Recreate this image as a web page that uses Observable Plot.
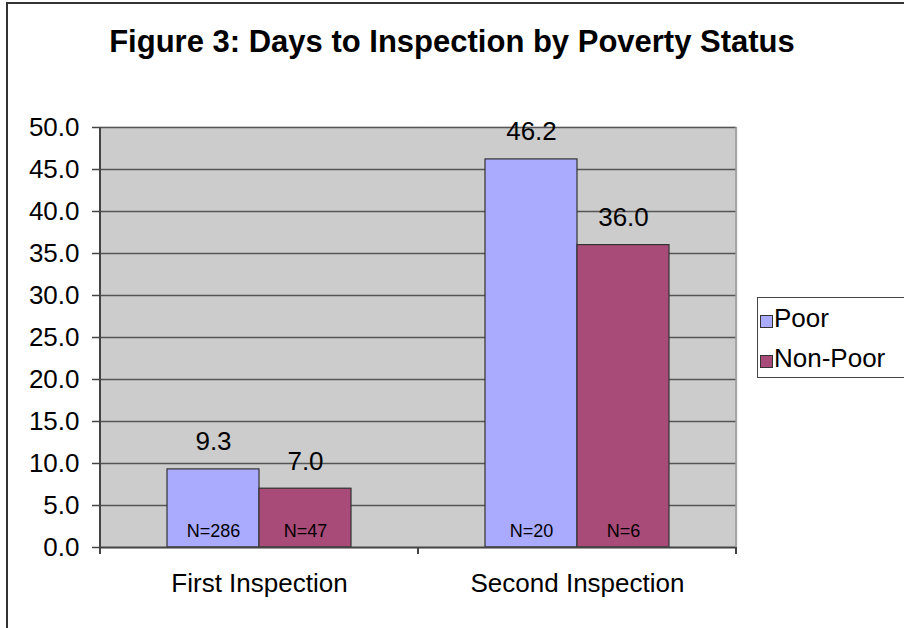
<!DOCTYPE html>
<html>
<head>
<meta charset="utf-8">
<script src="https://cdn.jsdelivr.net/npm/d3@7"></script>
<script src="https://cdn.jsdelivr.net/npm/@observablehq/plot@0.6"></script>
<style>
  html, body { margin: 0; padding: 0; background: #fff; overflow: hidden; }
  #wrap { position: relative; width: 904px; height: 628px; overflow: hidden; background: #fff; font-family: "Liberation Sans", Arial, sans-serif; }
  #frame { position: absolute; left: 6px; top: 2px; width: 1200px; height: 1200px; border: 2px solid #333; box-sizing: border-box; }
  #title { position: absolute; left: 0; top: 26px; width: 904px; text-align: center; font-weight: bold; font-size: 31px; line-height: 31px; color: #000; }
  #chart { position: absolute; left: 0; top: 0; }
  #legend { position: absolute; left: 757px; top: 297px; width: 200px; height: 81px; border: 1.5px solid #444; box-sizing: border-box; background: #fff; }
  .li { position: absolute; left: 0; font-size: 26px; line-height: 26px; color: #000; white-space: nowrap; }
  .sw { position: absolute; width: 11px; height: 11px; border: 1px solid #333; }
  .lt { position: absolute; left: 16px; }
</style>
</head>
<body>
<div id="wrap">
  <div id="frame"></div>
  <div id="chart"></div>
  <div id="title">Figure 3: Days to Inspection by Poverty Status</div>
  <div id="legend"></div>
</div>
<script>
const categories = ["First Inspection", "Second Inspection"];
const series = ["Poor", "Non-Poor"];
const poorValues = [9.3, 46.2];
const nonPoorValues = [7.0, 36.0];
const poorN = ["N=286", "N=20"];
const nonPoorN = ["N=47", "N=6"];
const yTicks = [0, 5, 10, 15, 20, 25, 30, 35, 40, 45, 50];
const seriesColors = ["#aaaaff", "#a94b78"];

const data = [];
categories.forEach((c, i) => {
  data.push({category: c, series: series[0], value: poorValues[i], n: poorN[i]});
  data.push({category: c, series: series[1], value: nonPoorValues[i], n: nonPoorN[i]});
});

const plot = Plot.plot({
  width: 904,
  height: 628,
  marginLeft: 100,
  marginRight: 168,
  marginTop: 127,
  marginBottom: 81,
  style: {fontFamily: "'Liberation Sans', Arial, sans-serif", color: "#000", background: "transparent", overflow: "visible"},
  fx: {domain: categories, paddingInner: 0, paddingOuter: 0, label: null},
  x: {domain: series, paddingInner: 0, paddingOuter: 0.728, axis: null},
  y: {domain: [0, 50], axis: null},
  color: {domain: series, range: seriesColors},
  marks: [
    Plot.frame({fill: "#cccccc", stroke: "#cccccc", strokeWidth: 1.5}),
    Plot.gridY(yTicks.filter(d => d > 0), {stroke: "#555", strokeOpacity: 1, strokeWidth: 1.5}),
    Plot.barY(data, {fx: "category", x: "series", y: "value", fill: "series", stroke: "#333", strokeWidth: 1.2}),
    Plot.ruleY([0], {stroke: "#444", strokeWidth: 2}),
    Plot.text(data, {fx: "category", x: "series", y: "value", text: d => d.value.toFixed(1), lineAnchor: "bottom", dy: -19, fontSize: 26, fill: "#000"}),
    Plot.text(data, {fx: "category", x: "series", y: 0, text: "n", lineAnchor: "bottom", dy: -11, fontSize: 18, fill: "#000"}),
    Plot.axisY({ticks: yTicks, tickFormat: d => d.toFixed(1), tickSize: 8, tickPadding: 13, fontSize: 26, anchor: "left", stroke: "#444", strokeWidth: 1.5, label: null}),
    Plot.axisFx({anchor: "bottom", tickSize: 0, tickPadding: 26, fontSize: 26, label: null})
  ]
});
document.getElementById("chart").appendChild(plot);

// Category-boundary ticks, y axis line and right plot border, positioned from Plot's own scales
const fxS = plot.scale("fx");
const yS = plot.scale("y");
const svg = d3.select(plot);
const edges = categories.map(c => fxS.apply(c));
edges.push(fxS.apply(categories[categories.length - 1]) + fxS.bandwidth);
const y0 = yS.apply(0), yTop = yS.apply(50);
const g = svg.append("g");
edges.forEach((ex) => {
  g.append("line").attr("x1", ex).attr("x2", ex).attr("y1", y0).attr("y2", y0 + 7)
    .attr("stroke", "#444").attr("stroke-width", 2);
});
g.append("line").attr("x1", edges[0]).attr("x2", edges[0]).attr("y1", yTop).attr("y2", y0 + 7)
  .attr("stroke", "#444").attr("stroke-width", 2);
g.append("line").attr("x1", edges[edges.length - 1]).attr("x2", edges[edges.length - 1]).attr("y1", yTop).attr("y2", y0)
  .attr("stroke", "#999").attr("stroke-width", 1.5);

// Legend
const legend = document.getElementById("legend");
series.forEach((s, i) => {
  const item = document.createElement("div");
  item.className = "li";
  item.style.top = (7 + i * 40) + "px";
  const sw = document.createElement("div");
  sw.className = "sw";
  sw.style.left = "2px";
  sw.style.top = "10px";
  sw.style.background = seriesColors[i];
  const t = document.createElement("div");
  t.className = "lt";
  t.textContent = s;
  item.appendChild(sw);
  item.appendChild(t);
  legend.appendChild(item);
});
</script>
</body>
</html>
